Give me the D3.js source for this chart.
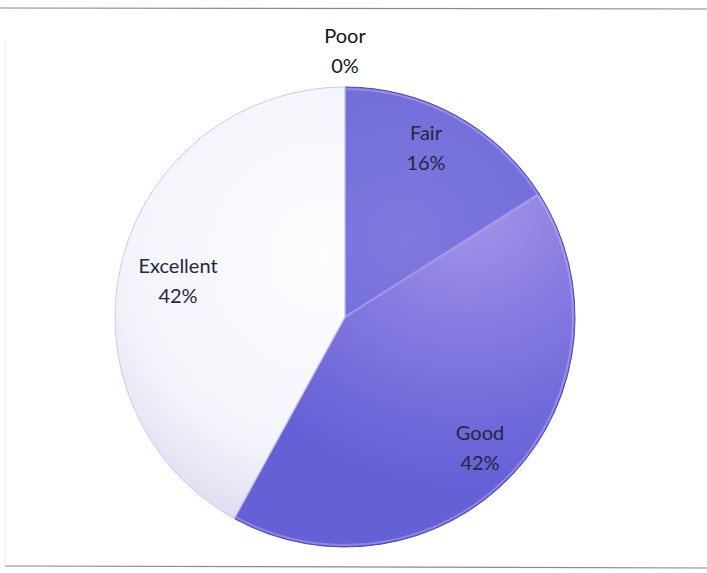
<!DOCTYPE html>
<html><head><meta charset="utf-8">
<script src="https://cdn.jsdelivr.net/npm/d3@7"></script>
<style>html,body{margin:0;padding:0;background:#fff;}svg{display:block;}</style>
</head><body>
<script>
const categories = ["Poor", "Fair", "Good", "Excellent"];
const values = [0, 16, 42, 42];
const percentLabels = ["0%", "16%", "42%", "42%"];

const W = 707, H = 573;
const cx = 345, cy = 317, R = 230;
const svg = d3.select("body").append("svg").attr("width", W).attr("height", H);

const defs = svg.append("defs");
const grads = [
  {id:"gPoor", stops:[["0%","#f4f4fb"],["100%","#dadaf0"]], c:[0,-60]},
  {id:"gFair", stops:[["0%","#7f78de"],["60%","#716cd9"],["100%","#6a67d6"]], c:[60,-80]},
  {id:"gGood", stops:[["0%","#a797ea"],["40%","#8a7ee2"],["75%","#736bdb"],["100%","#6560d6"]], c:[120,-120]},
  {id:"gExc", stops:[["0%","#fdfdff"],["70%","#f3f3fb"],["100%","#dadaf0"]], c:[-20,-60]}
];
grads.forEach(g => {
  const rg = defs.append("radialGradient").attr("id", g.id)
    .attr("gradientUnits","userSpaceOnUse").attr("cx", g.c[0]).attr("cy", g.c[1]).attr("r", R + 60);
  g.stops.forEach(s => rg.append("stop").attr("offset", s[0]).attr("stop-color", s[1]));
});
const fills = ["url(#gPoor)","url(#gFair)","url(#gGood)","url(#gExc)"];

// frame lines
svg.append("line").attr("x1",0).attr("x2",W).attr("y1",8).attr("y2",9).attr("stroke","#8a8a8a").attr("stroke-width",1.2);
svg.append("line").attr("x1",5).attr("x2",W).attr("y1",566).attr("y2",568).attr("stroke","#8a8a8a").attr("stroke-width",1.2);
svg.append("line").attr("x1",5).attr("x2",5).attr("y1",40).attr("y2",566).attr("stroke","#ececec").attr("stroke-width",1);

const pie = d3.pie().sort(null).value(d => d)(values);
const arc = d3.arc().innerRadius(0).outerRadius(R);
const g = svg.append("g").attr("transform", `translate(${cx},${cy})`);
g.selectAll("path.slice").data(pie).join("path").attr("class","slice")
  .attr("d", arc)
  .attr("fill", (d,i) => fills[i])
  .attr("stroke", (d,i) => i === 3 ? "#cdcde6" : "#4a46b4")
  .attr("stroke-width", 1)
  .attr("stroke-linejoin","round");
// soft highlight just inside each coloured slice
const arcIn = d3.arc().innerRadius(0).outerRadius(R - 2);
g.selectAll("path.hl").data(pie.filter((d,i) => i === 1 || i === 2)).join("path").attr("class","hl")
  .attr("d", arcIn).attr("fill","none").attr("stroke","#c8bff2").attr("stroke-opacity",0.4).attr("stroke-width",2);

// label anchors: [x, first baseline] for each category
const labelX = [345, 426, 480, 178];
const labelY = [43, 140, 440, 273];
const lbl = svg.append("g").attr("font-family","Lato, sans-serif").attr("font-size",20)
  .attr("fill","#262640").attr("text-anchor","middle");
categories.forEach((c,i) => {
  const t = lbl.append("text").attr("x", labelX[i]).attr("y", labelY[i]);
  t.append("tspan").attr("x", labelX[i]).text(c);
  t.append("tspan").attr("x", labelX[i]).attr("dy", 30).text(percentLabels[i]);
  if (i === 0) t.attr("fill","#151515");
});
</script>
</body></html>
